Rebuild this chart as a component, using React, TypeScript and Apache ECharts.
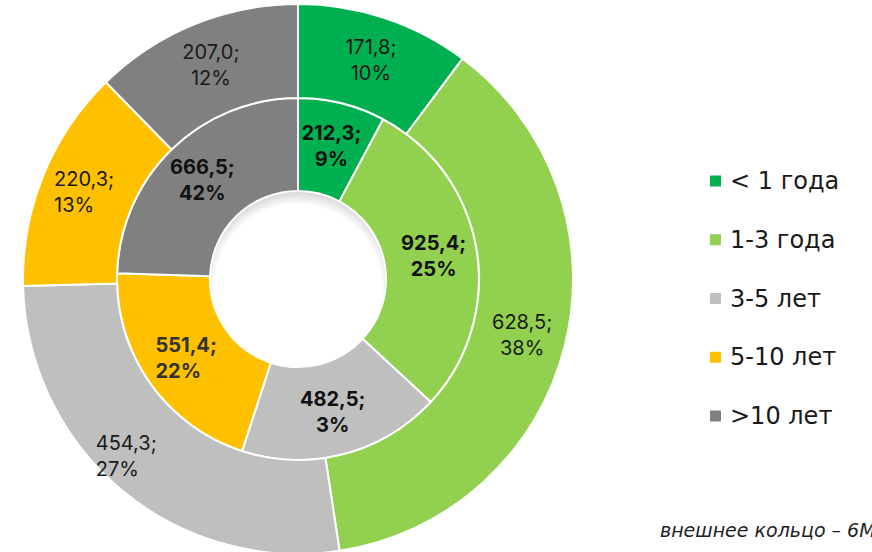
import React, { useEffect, useRef } from "react";
import * as echarts from "echarts";

const categories = ["< 1 года", "1-3 года", "3-5 лет", "5-10 лет", ">10 лет"];
const colors = ["#00B050", "#92D050", "#BFBFBF", "#FFC000", "#808080"];
const outerValues = [171.8, 628.5, 454.3, 220.3, 207.0];
const outerPercents = [10, 38, 27, 13, 12];
const innerValues = [212.3, 925.4, 482.5, 551.4, 666.5];
const innerPercents = [9, 25, 3, 22, 42];
// share of the inner circle occupied by each slice, as drawn (percent)
const innerArcShares = [7.8, 29.1, 18.1, 20.5, 24.5];
const noteText = "внешнее кольцо – 6М";

const FONT = "Inter, 'Noto Sans', sans-serif";
const WIDE_FONT = "'DejaVu Sans', 'Noto Sans', sans-serif";
const fmt = (v: number) => v.toFixed(1).replace(".", ",");

export default function App() {
  const ref = useRef<HTMLDivElement>(null);
  useEffect(() => {
    document.body.style.margin = "0";
    const chart = echarts.init(ref.current!, null, { renderer: "svg" });
    const cx = 298;
    const cy = 279;

    const outerKeys = ["c", "c", "w108", "w60", "c"];
    const innerKeys = ["b", "b", "b", "bw60", "b"];

    const baseRegular = { fontFamily: FONT, fontSize: 20, lineHeight: 26, color: "#1a1a1a" };
    const baseBold = { fontFamily: FONT, fontSize: 20, lineHeight: 26, color: "#111", fontWeight: "bold" as const };

    const option: any = {
      animation: false,
      backgroundColor: "#ffffff",
      color: colors,
      legend: {
        orient: "vertical",
        left: 708,
        top: 169,
        padding: 0,
        icon: "rect",
        itemWidth: 13,
        itemHeight: 13,
        itemGap: 34.75,
        data: categories,
        selectedMode: false,
        textStyle: { fontFamily: WIDE_FONT, fontSize: 24, lineHeight: 24, color: "#1a1a1a", padding: [0, 0, 0, 3] },
      },
      graphic: [
        {
          type: "circle",
          shape: { cx, cy, r: 88 },
          silent: true,
          style: {
            fill: {
              type: "radial",
              x: 0.5,
              y: 0.55,
              r: 0.55,
              colorStops: [
                { offset: 0, color: "#ffffff" },
                { offset: 0.86, color: "#ffffff" },
                { offset: 1, color: "#d4d4d4" },
              ],
            },
          },
        },
        {
          type: "text",
          left: 660,
          top: 520,
          silent: true,
          style: {
            text: noteText,
            fontFamily: WIDE_FONT,
            fontStyle: "italic",
            fontSize: 19,
            fill: "#222",
          },
        },
      ],
      series: [
        {
          type: "pie",
          name: "inner",
          center: [cx, cy],
          radius: [88, 181],
          startAngle: 90,
          clockwise: true,
          avoidLabelOverlap: false,
          labelLine: { show: false },
          itemStyle: { borderColor: "#ffffff", borderWidth: 2 },
          emphasis: { disabled: true },
          label: {
            show: true,
            position: "inside",
            formatter: (p: any) => {
              const i = p.dataIndex;
              const k = innerKeys[i];
              return `{${k}|${fmt(innerValues[i])};}\n{${k}|${innerPercents[i]}%}`;
            },
            rich: {
              b: { ...baseBold },
              bw60: { ...baseBold, color: "#333", width: 60, align: "left" },
            },
          },
          data: categories.map((n, i) => ({ name: n, value: innerArcShares[i] })),
        },
        {
          type: "pie",
          name: "outer",
          center: [cx, cy],
          radius: [181, 275],
          startAngle: 90,
          clockwise: true,
          avoidLabelOverlap: false,
          labelLine: { show: false },
          itemStyle: { borderColor: "#ffffff", borderWidth: 2 },
          emphasis: { disabled: true },
          label: {
            show: true,
            position: "inside",
            formatter: (p: any) => {
              const i = p.dataIndex;
              const k = outerKeys[i];
              return `{${k}|${fmt(outerValues[i])};}\n{${k}|${outerPercents[i]}%}`;
            },
            rich: {
              c: { ...baseRegular },
              w108: { ...baseRegular, width: 108, align: "left" },
              w60: { ...baseRegular, width: 60, align: "left" },
            },
          },
          data: categories.map((n, i) => ({ name: n, value: outerValues[i] })),
        },
      ],
    };
    chart.setOption(option);
    return () => chart.dispose();
  }, []);
  return <div ref={ref} style={{ width: 872, height: 552 }} />;
}
